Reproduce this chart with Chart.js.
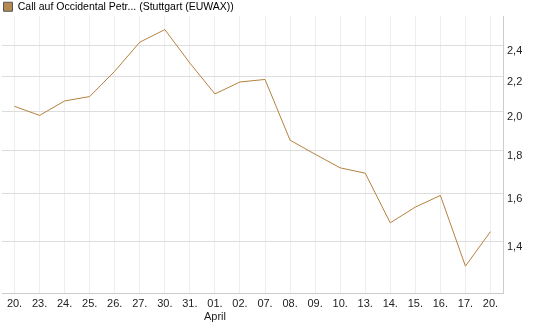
<!DOCTYPE html>
<html>
<head>
<meta charset="utf-8">
<script src="https://cdn.jsdelivr.net/npm/chart.js@4/dist/chart.umd.min.js"></script>
<style>
  html, body { margin: 0; padding: 0; background: #fff; }
  #wrap { width: 545px; height: 327px; }
</style>
</head>
<body>
<div id="wrap"><canvas id="chart" width="545" height="327"></canvas></div>
<script>
// data
const dates = ["20.", "23.", "24.", "25.", "26.", "27.", "30.", "31.", ["01.", "April"], "02.",
               "07.", "08.", "09.", "10.", "13.", "14.", "15.", "16.", "17.", "20."];
const prices = [2.03, 1.98, 2.06, 2.085, 2.235, 2.42, 2.505, 2.285, 2.10, 2.17,
                2.185, 1.85, 1.78, 1.715, 1.69, 1.475, 1.54, 1.59, 1.31, 1.44];
const yTicks = [1.4, 1.6, 1.8, 2.0, 2.2, 2.4];
const seriesName = "Call auf Occidental Petr... (Stuttgart (EUWAX))";

const lineColor = "#b5823d";
const fontFamily = "Liberation Sans, Arial, sans-serif";

// keep the legend strip 16px tall so the plot starts where the reference does
const legendHeight = {
  id: "legendHeight",
  beforeLayout(chart) {
    const lg = chart.legend;
    if (lg && !lg._fixed) {
      const fit = lg.fit;
      lg.fit = function() { fit.call(this); this.height = 16; };
      lg._fixed = true;
    }
  }
};

new Chart(document.getElementById("chart"), {
  type: "line",
  data: {
    labels: dates,
    datasets: [{
      label: seriesName,
      data: prices,
      borderColor: lineColor,
      backgroundColor: "#b58a52",
      borderWidth: 1,
      pointRadius: 0,
      tension: 0
    }]
  },
  options: {
    responsive: false,
    animation: false,
    layout: { padding: { left: 2, right: 0, top: 0, bottom: 0 } },
    plugins: {
      legend: {
        display: true,
        align: "start",
        labels: {
          boxWidth: 9,
          boxHeight: 9,
          padding: 1.5,
          color: "#222",
          font: { family: fontFamily, size: 10.5 },
          generateLabels: chart => [{
            text: seriesName,
            fillStyle: "#b58a52",
            strokeStyle: "#555",
            lineWidth: 1,
            datasetIndex: 0
          }]
        }
      },
      tooltip: { enabled: false }
    },
    scales: {
      x: {
        offset: true,
        grid: { color: "#eeeeee", drawTicks: false, offset: false },
        border: { color: "#cccccc" },
        ticks: {
          color: "#222",
          padding: 4,
          maxRotation: 0,
          autoSkip: false,
          font: { family: fontFamily, size: 11 }
        },
        afterFit: axis => { axis.height = 34; }
      },
      y: {
        type: "logarithmic",
        position: "right",
        min: 1.217,
        max: 2.6,
        grid: { color: "#dddddd", drawTicks: false },
        border: { color: "#cccccc" },
        afterBuildTicks: axis => { axis.ticks = yTicks.map(v => ({ value: v })); },
        ticks: {
          color: "#222",
          padding: 4,
          align: "start",
          font: { family: fontFamily, size: 11 },
          callback: v => v.toFixed(1).replace(".", ",")
        },
        afterFit: axis => { axis.width = 42; }
      }
    }
  },
  plugins: [legendHeight]
});
</script>
</body>
</html>
